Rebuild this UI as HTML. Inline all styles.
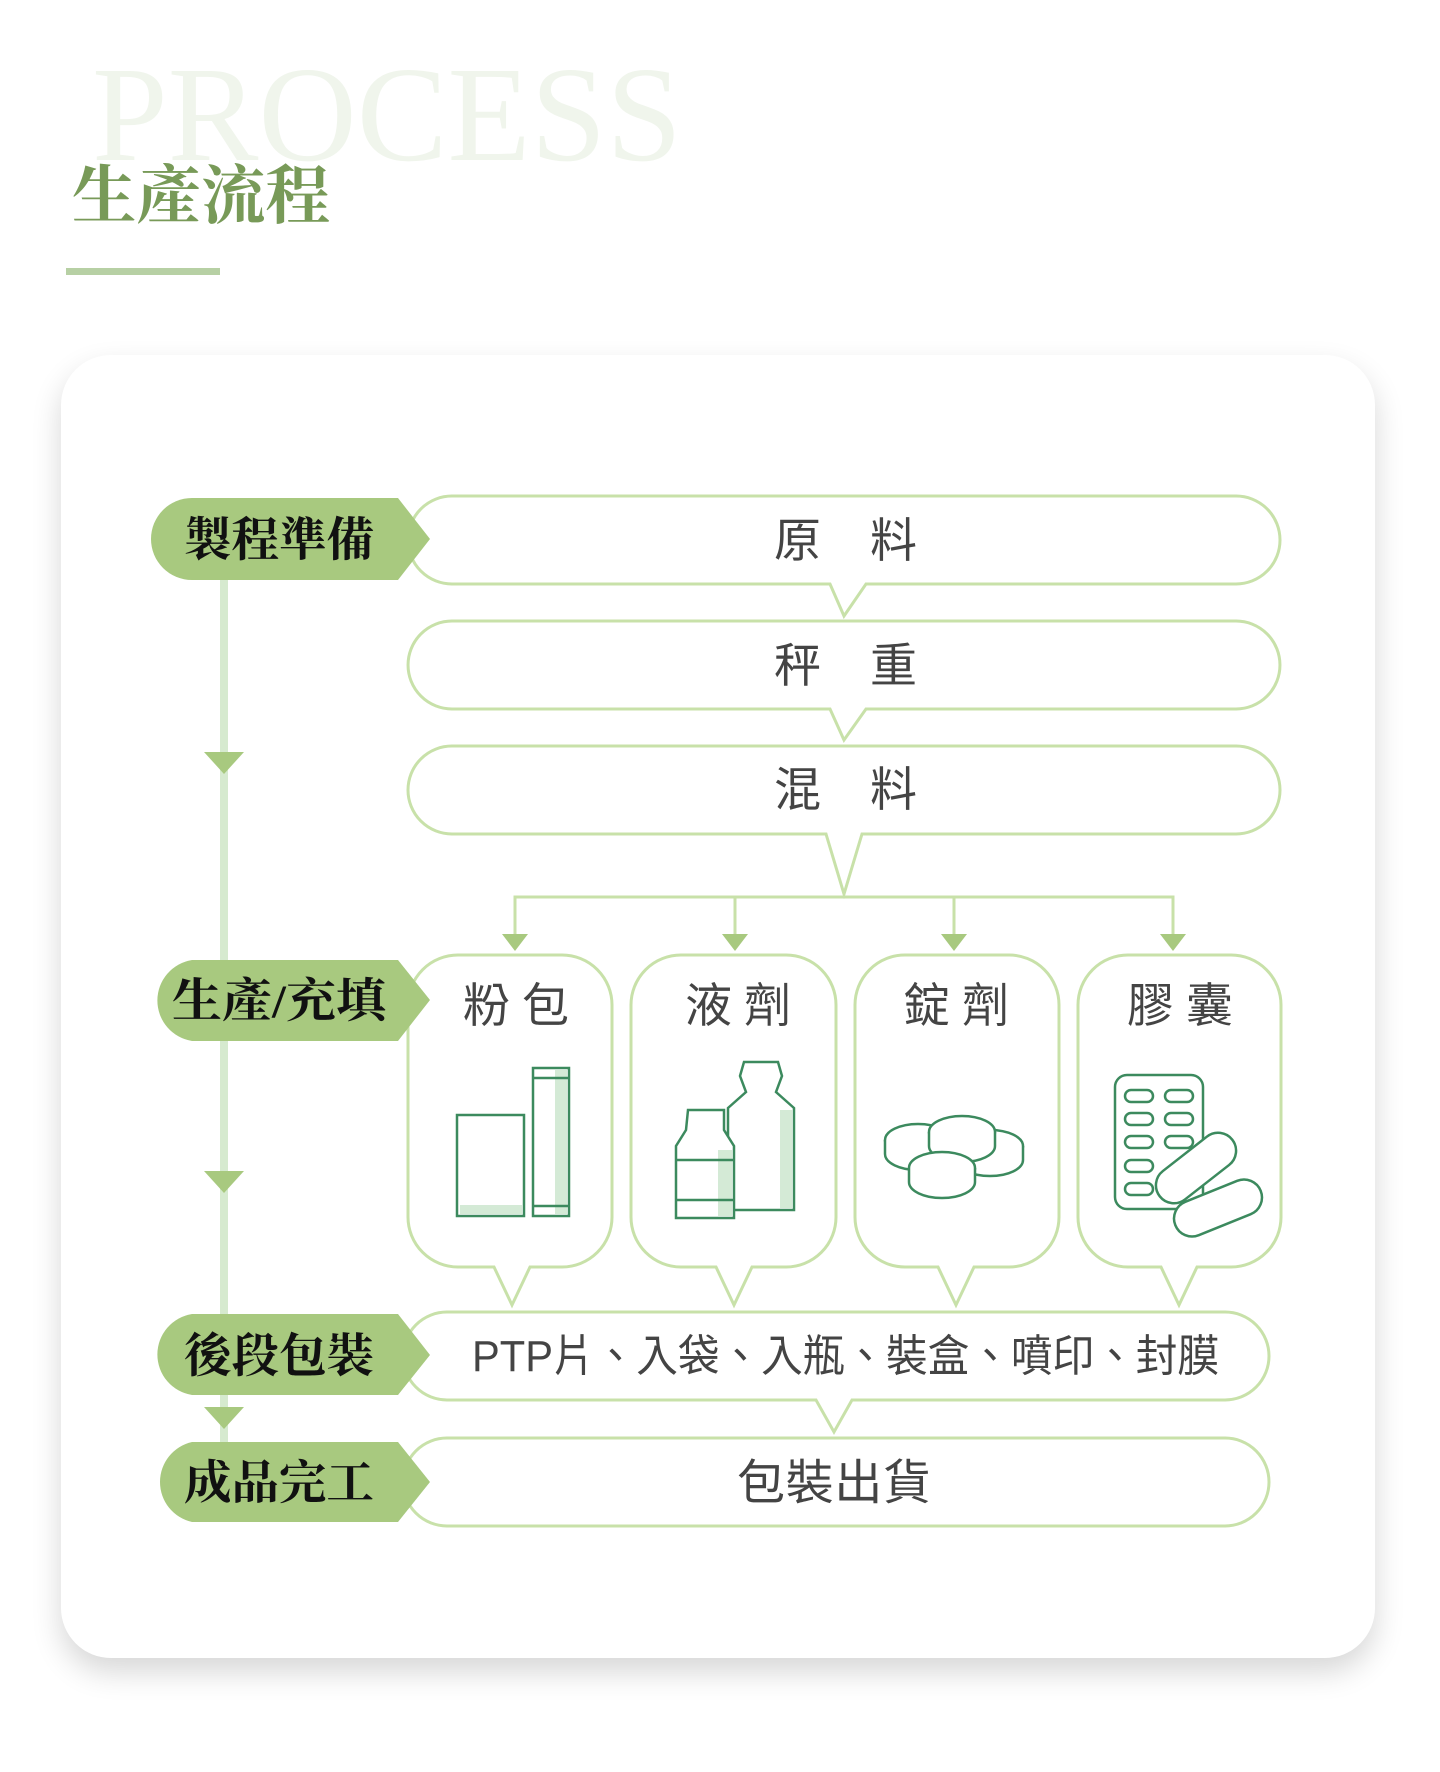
<!DOCTYPE html>
<html><head><meta charset="utf-8"><style>
html,body{margin:0;padding:0;background:#fff;}
body{width:1440px;height:1772px;overflow:hidden;position:relative;}
.card{position:absolute;left:61px;top:355px;width:1314px;height:1303px;border-radius:50px;background:#fff;box-shadow:0 14px 30px rgba(0,0,0,0.16);}
svg{position:absolute;left:0;top:0;}
</style></head><body>
<div class="card"></div>
<svg width="1440" height="1772" viewBox="0 0 1440 1772" xmlns="http://www.w3.org/2000/svg">
<text x="92" y="160" font-family="Liberation Serif, serif" font-size="136" fill="#f0f5ec" textLength="590" lengthAdjust="spacingAndGlyphs">PROCESS</text>
<text x="72" y="218" font-family="Liberation Serif, 'Noto Serif CJK SC', serif" font-weight="bold" font-size="64" fill="#789a58" textLength="258" lengthAdjust="spacingAndGlyphs">生產流程</text>
<rect x="66" y="268" width="154" height="7" fill="#b7d0a4"/>

<rect x="220" y="575" width="8" height="870" fill="#d6eacf"/>
<g fill="#a8c97f">
<polygon points="204,752 244,752 224,774"/>
<polygon points="204,1171 244,1171 224,1193"/>
<polygon points="204,1407 244,1407 224,1429"/>
</g>

<g fill="none" stroke="#c8e1a9" stroke-width="3">
<path d="M452,496 H1236 A44,44 0 0 1 1236,584 H866 L844,616 L830,584 H452 A44,44 0 0 1 452,496 Z"/>
<path d="M452,621 H1236 A44,44 0 0 1 1236,709 H866 L844,740 L830,709 H452 A44,44 0 0 1 452,621 Z"/>
<path d="M452,746 H1236 A44,44 0 0 1 1236,834 H862 L844,894 L826,834 H452 A44,44 0 0 1 452,746 Z"/>
<path d="M515,934 V897 H1173 V934 M735,897 V934 M954,897 V934"/>
<path d="M458,955 H562 A50,50 0 0 1 612,1005 V1217 A50,50 0 0 1 562,1267 H530 L512,1305 L494,1267 H458 A50,50 0 0 1 408,1217 V1005 A50,50 0 0 1 458,955 Z"/>
<path d="M681,955 H786 A50,50 0 0 1 836,1005 V1217 A50,50 0 0 1 786,1267 H752 L734,1305 L716,1267 H681 A50,50 0 0 1 631,1217 V1005 A50,50 0 0 1 681,955 Z"/>
<path d="M905,955 H1009 A50,50 0 0 1 1059,1005 V1217 A50,50 0 0 1 1009,1267 H974 L956,1305 L938,1267 H905 A50,50 0 0 1 855,1217 V1005 A50,50 0 0 1 905,955 Z"/>
<path d="M1128,955 H1231 A50,50 0 0 1 1281,1005 V1217 A50,50 0 0 1 1231,1267 H1197 L1179,1305 L1161,1267 H1128 A50,50 0 0 1 1078,1217 V1005 A50,50 0 0 1 1128,955 Z"/>
<path d="M447,1312 H1225 A44,44 0 0 1 1225,1400 H852 L834,1432 L816,1400 H447 A44,44 0 0 1 447,1312 Z"/>
<path d="M447,1438 H1225 A44,44 0 0 1 1225,1526 H447 A44,44 0 0 1 447,1438 Z"/>
</g>
<g fill="#a8c97f">
<polygon points="502,934 528,934 515,951"/>
<polygon points="722,934 748,934 735,951"/>
<polygon points="941,934 967,934 954,951"/>
<polygon points="1160,934 1186,934 1173,951"/>
</g>

<g fill="#a8c97f">
<path d="M192,498 H398 L430,539 L398,580 H192 A41,41 0 0 1 192,498 Z"/>
<path d="M192,960 H398 L430,1000 L398,1041 H192 A41,41 0 0 1 192,960 Z"/>
<path d="M192,1314 H398 L430,1355 L398,1395 H192 A41,41 0 0 1 192,1314 Z"/>
<path d="M192,1442 H398 L430,1482 L398,1522 H192 A41,41 0 0 1 192,1442 Z"/>
</g>
<g font-family="Liberation Serif, 'Noto Serif CJK SC', serif" font-weight="bold" font-size="47" fill="#111">
<text x="184" y="556" textLength="190" lengthAdjust="spacingAndGlyphs">製程準備</text>
<text x="172" y="1017" textLength="214" lengthAdjust="spacingAndGlyphs">生產/充填</text>
<text x="184" y="1372" textLength="190" lengthAdjust="spacingAndGlyphs">後段包裝</text>
<text x="184" y="1499" textLength="190" lengthAdjust="spacingAndGlyphs">成品完工</text>
</g>
<g font-family="Liberation Sans, 'Noto Sans CJK TC', sans-serif" font-size="47" fill="#444">
<text x="774" y="557" textLength="143">原　料</text>
<text x="774" y="682" textLength="143">秤　重</text>
<text x="774" y="806" textLength="143">混　料</text>
<text x="463" y="1022" textLength="106">粉 包</text>
<text x="685" y="1022" textLength="106">液 劑</text>
<text x="903" y="1022" textLength="106">錠 劑</text>
<text x="1127" y="1022" textLength="106">膠 囊</text>
<text x="472" y="1371" font-size="44" textLength="747" lengthAdjust="spacingAndGlyphs">PTP片、入袋、入瓶、裝盒、噴印、封膜</text>
<text x="737" y="1499" font-size="48" textLength="194">包裝出貨</text>
</g>

<g fill="none" stroke="#3c8a5e" stroke-width="2.5">
<rect x="457" y="1115" width="67" height="101" fill="#fff"/>
<rect x="460" y="1205" width="62" height="9" fill="#d4ead6" stroke="none"/>
<rect x="533" y="1068" width="36" height="148"/>
<rect x="555" y="1070" width="12" height="144" fill="#d4ead6" stroke="none"/>
<path d="M533,1078 H569 M533,1206 H569"/>
<path d="M744,1062 H778 L782,1076 L776,1092 L794,1108 V1210 H728 V1108 L746,1092 L740,1076 Z"/>
<rect x="780" y="1110" width="12" height="98" fill="#d4ead6" stroke="none"/>
<path d="M688,1110 H724 V1130 L734,1146 V1218 H676 V1146 L686,1130 Z" fill="#fff"/>
<rect x="718" y="1150" width="14" height="66" fill="#d4ead6" stroke="none"/>
<path d="M676,1160 H734 M676,1200 H734"/>
<g fill="#fff">
<ellipse cx="918" cy="1140" rx="33" ry="16"/><path d="M885,1140 V1154 A33,16 0 0 0 951,1154 V1140"/>
<ellipse cx="990" cy="1146" rx="33" ry="16"/><path d="M957,1146 V1160 A33,16 0 0 0 1023,1160 V1146"/>
<ellipse cx="962" cy="1132" rx="33" ry="16"/><path d="M929,1132 V1146 A33,16 0 0 0 995,1146 V1132"/>
<ellipse cx="942" cy="1168" rx="33" ry="16"/><path d="M909,1168 V1182 A33,16 0 0 0 975,1182 V1168"/>
</g>
<rect x="1115" y="1075" width="88" height="134" rx="12" fill="#fff"/>
<g>
<rect x="1125" y="1090" width="28" height="12" rx="6"/><rect x="1165" y="1090" width="28" height="12" rx="6"/>
<rect x="1125" y="1113" width="28" height="12" rx="6"/><rect x="1165" y="1113" width="28" height="12" rx="6"/>
<rect x="1125" y="1136" width="28" height="12" rx="6"/><rect x="1165" y="1136" width="28" height="12" rx="6"/>
<rect x="1125" y="1160" width="28" height="12" rx="6"/>
<rect x="1125" y="1183" width="28" height="12" rx="6"/>
</g>
<rect x="1150" y="1150" width="92" height="36" rx="18" transform="rotate(-38 1196 1168)" fill="#fff"/>
<rect x="1172" y="1190" width="92" height="36" rx="18" transform="rotate(-22 1218 1208)" fill="#fff"/>
</g>
</svg>
</body></html>
